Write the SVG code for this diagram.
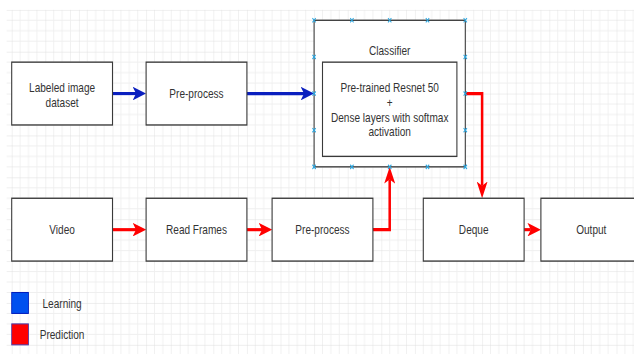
<svg xmlns="http://www.w3.org/2000/svg" width="634" height="354" viewBox="0 0 634 354">
<style>
.box{fill:#ffffff;stroke:#3a3a3a;stroke-width:1.3}
.t{font-family:"Liberation Sans",Arial,sans-serif;font-size:12px;fill:#333333;text-anchor:middle}
.blue{fill:none;stroke:#0a1fbf;stroke-width:3}
.red{fill:none;stroke:#ff0000;stroke-width:3}
.pt{stroke:#2aa6e0;stroke-width:1.2;fill:none}
</style>
<defs>
<pattern id="grid" x="0" y="0" width="40" height="40" patternUnits="userSpaceOnUse">
<path d="M10,0V40M20,0V40M30,0V40M0,10H40M0,20H40M0,30H40" stroke="#efefef" stroke-width="1"/>
<path d="M0,0V40M0,0H40" stroke="#dedede" stroke-width="1"/>
</pattern>
<marker id="ab" viewBox="0 0 16 13" markerWidth="16" markerHeight="13" refX="4" refY="6.5" orient="auto" markerUnits="userSpaceOnUse">
<path d="M0,0L16,6.5L0,13L4,6.5Z" fill="#0a1fbf"/>
</marker>
<marker id="ar" viewBox="0 0 16 13" markerWidth="16" markerHeight="13" refX="4" refY="6.5" orient="auto" markerUnits="userSpaceOnUse">
<path d="M0,0L16,6.5L0,13L4,6.5Z" fill="#ff0000"/>
</marker>
</defs>
<rect width="634" height="354" fill="#ffffff"/>
<g transform="matrix(0.84 0 0 1.047 11.7 9.8)">
<rect x="-6" y="0" width="760" height="340" fill="url(#grid)"/>

<g id="connectors">
<path class="blue" d="M120,80L148,80" marker-end="url(#ab)"/>
<path class="blue" d="M280,80L348,80" marker-end="url(#ab)"/>
<path class="red" d="M120,210L148,210" marker-end="url(#ar)"/>
<path class="red" d="M280,210L298,210" marker-end="url(#ar)"/>
<path class="red" d="M430,210L450,210L450,162" marker-end="url(#ar)"/>
<path class="red" d="M540,80L560,80L560,168" marker-end="url(#ar)"/>
<path class="red" d="M610,210L618,210" marker-end="url(#ar)"/>
</g>

<g id="labeled-dataset">
<rect class="box" x="0" y="50" width="120" height="60"/>
<text class="t" x="60" y="78.5">Labeled image</text>
<text class="t" x="60" y="92.5">dataset</text>
</g>
<g id="preprocess-learning">
<rect class="box" x="160" y="50" width="120" height="60"/>
<text class="t" x="220" y="84.5">Pre-process</text>
</g>
<g id="classifier">
<rect class="box" x="360" y="10" width="180" height="140"/>
<text class="t" x="450" y="43">Classifier</text>
<rect class="box" x="370" y="50" width="160" height="90"/>
<text class="t" x="450" y="79">Pre-trained Resnet 50</text>
<text class="t" x="450" y="93">+</text>
<text class="t" x="450" y="107">Dense layers with softmax</text>
<text class="t" x="450" y="121">activation</text>
<path class="pt" d="M358,8l4,4m0,-4l-4,4M403,8l4,4m0,-4l-4,4M448,8l4,4m0,-4l-4,4M493,8l4,4m0,-4l-4,4M538,8l4,4m0,-4l-4,4M358,148l4,4m0,-4l-4,4M403,148l4,4m0,-4l-4,4M448,148l4,4m0,-4l-4,4M493,148l4,4m0,-4l-4,4M538,148l4,4m0,-4l-4,4M358,43l4,4m0,-4l-4,4M358,78l4,4m0,-4l-4,4M358,113l4,4m0,-4l-4,4M538,43l4,4m0,-4l-4,4M538,78l4,4m0,-4l-4,4M538,113l4,4m0,-4l-4,4"/>
</g>
<g id="video">
<rect class="box" x="0" y="180" width="120" height="60"/>
<text class="t" x="60" y="214.5">Video</text>
</g>
<g id="read-frames">
<rect class="box" x="160" y="180" width="120" height="60"/>
<text class="t" x="220" y="214.5">Read Frames</text>
</g>
<g id="preprocess-prediction">
<rect class="box" x="310" y="180" width="120" height="60"/>
<text class="t" x="370" y="214.5">Pre-process</text>
</g>
<g id="deque">
<rect class="box" x="490" y="180" width="120" height="60"/>
<text class="t" x="550" y="214.5">Deque</text>
</g>
<g id="output">
<rect class="box" x="630" y="180" width="120" height="60"/>
<text class="t" x="690" y="214.5">Output</text>
</g>
<g id="legend-learning">
<rect x="0" y="270" width="20" height="20" fill="#0050ef" stroke="#001dbc" stroke-width="1"/>
<text class="t" x="60" y="284.5">Learning</text>
</g>
<g id="legend-prediction">
<rect x="0" y="300" width="20" height="20" fill="#ff0000" stroke="#4a3aa8" stroke-width="1"/>
<text class="t" x="60" y="314.5">Prediction</text>
</g>
</g>
</svg>
